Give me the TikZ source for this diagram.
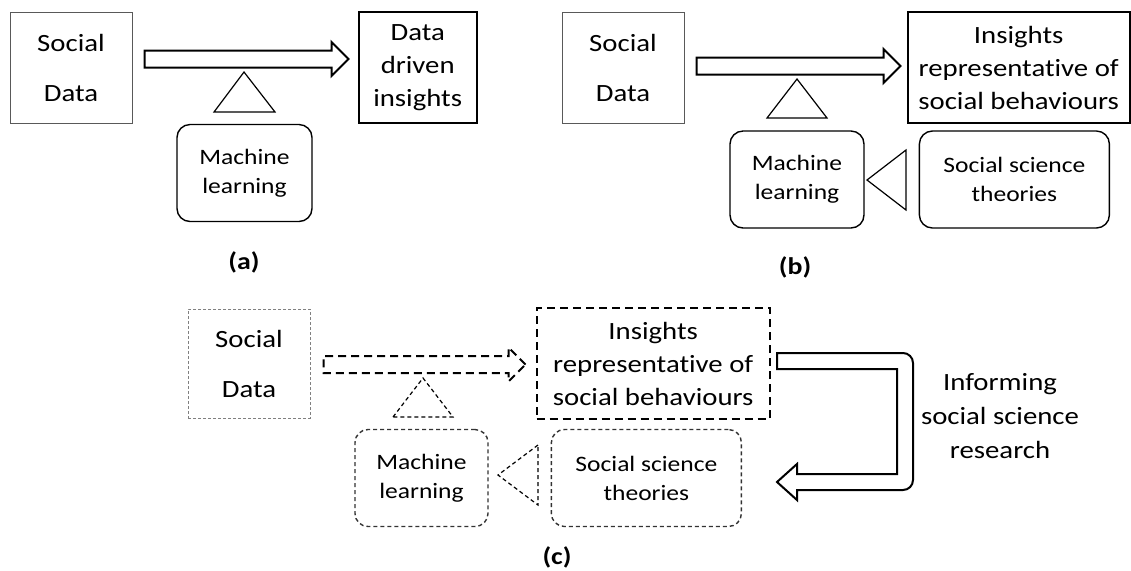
\documentclass[tikz,border=0pt]{standalone}
\usepackage{fontspec}
\setmainfont{Carlito}[FakeStretch=1.16, Ligatures=NoCommon]
\usepackage{tikz}
\usetikzlibrary{shapes.arrows, positioning, calc}
\newcommand{\txtbig}{\fontsize{12.4}{16.5}\selectfont}
\newcommand{\txtsoc}{\fontsize{12.4}{25}\selectfont}
\newcommand{\txtsmall}{\fontsize{11}{14.5}\selectfont}
\newcommand{\txtcap}{\fontsize{12}{14}\selectfont\bfseries}
\tikzstyle{databox} = [rectangle, draw=black!65, line width=0.5pt, minimum width=61pt, minimum height=55.5pt, align=center, font=\txtsoc]
\tikzstyle{outbox} = [rectangle, draw=black, line width=1.2pt, minimum height=55.5pt, align=center, font=\txtbig]
\tikzstyle{mlbox} = [rectangle, rounded corners=6.5pt, draw=black, line width=0.7pt, minimum height=48.5pt, align=center, font=\txtsmall]
\tikzstyle{blockarrow} = [single arrow, draw=black, line width=1pt, inner xsep=0pt, inner ysep=3.75pt, single arrow head extend=4.25pt, anchor=tail]
\tikzstyle{pivot} = [draw=black, line width=0.6pt]
\tikzstyle{caption} = [font=\txtcap]
\tikzstyle{faint} = [dash pattern=on 2pt off 1.5pt]
\tikzstyle{heavydash} = [dash pattern=on 4pt off 2.5pt]

\begin{document}
\begin{tikzpicture}[x=0.5pt, y=-0.5pt]
    \useasboundingbox (0,0) rectangle (1131,570);

    % (a) Data driven
    \node (sdA) [databox] at (71,67.5) {Social\\Data};
    \node (ddA) [outbox, minimum width=59pt, right=112.5pt of sdA] {Data\\driven\\insights};
    \node (arrA) [blockarrow, minimum height=102pt] at ($(sdA.east)+(5.5pt,4.25pt)$) {};
    \node (mlA) [mlbox, minimum width=67.5pt] at (244.5,173) {Machine\\learning};
    \draw [pivot] (214,112) -- (244,72) -- (275,112) -- cycle;
    \node (lblA) [caption] at (244,262) {(a)};

    % (b) Theory driven
    \node (sdB) [databox] at (623,67.5) {Social\\Data};
    \node (inB) [outbox, minimum width=111pt, right=111pt of sdB] {Insights\\representative of\\social behaviours};
    \node (arrB) [blockarrow, minimum height=102pt] at ($(sdB.east)+(5.5pt,0.75pt)$) {};
    \node (mlB) [mlbox, minimum width=67pt] at (797,179.5) {Machine\\learning};
    \node (sstB) [mlbox, minimum width=95pt, right=27pt of mlB] {Social science\\theories};
    \draw [pivot] (767,118) -- (797,79) -- (827,118) -- cycle;
    \draw [pivot] (906,150) -- (867,180) -- (906,210) -- cycle;
    \node (lblB) [caption] at (795,267) {(b)};

    % (c) Informing research
    \node (sdC) [databox, draw=black!50, dash pattern=on 1.5pt off 1pt, minimum height=54.5pt] at (249,363.5) {Social\\Data};
    \node (inC) [outbox, heavydash, minimum width=116.5pt, right=112.5pt of sdC] {Insights\\representative of\\social behaviours};
    \node (arrC) [blockarrow, heavydash, minimum height=101pt] at ($(sdC.east)+(6pt,-0.5pt)$) {};
    \node (mlC) [mlbox, faint, draw=black!80, minimum width=66.5pt] at (421.5,478) {Machine\\learning};
    \node (sstC) [mlbox, faint, draw=black!80, minimum width=95pt, right=31pt of mlC] {Social science\\theories};
    \draw [pivot, faint] (393,417) -- (423,378) -- (453,417) -- cycle;
    \draw [pivot, faint] (538,445) -- (498,475) -- (538,505) -- cycle;
    \draw [line width=1pt] (777,353) -- (903,353) arc (90:0:5pt) -- (913,480) arc (0:-90:5pt)
        -- (797,490) -- (797,500) -- (777,482) -- (797,464) -- (797,474) -- (897,474) -- (897,369) -- (777,369) -- cycle;
    \node (inform) [align=center, font=\fontsize{12.4}{17}\selectfont] at (1000,416) {Informing\\social science\\research};
    \node (lblC) [caption] at (557,557) {(c)};
\end{tikzpicture}
\end{document}
